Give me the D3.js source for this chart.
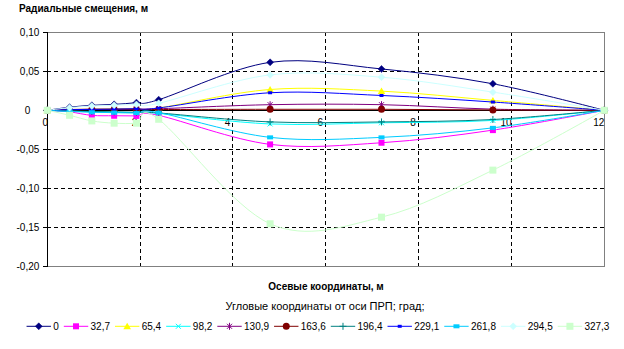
<!DOCTYPE html>
<html><head><meta charset="utf-8">
<script src="https://cdn.jsdelivr.net/npm/d3@7/dist/d3.min.js"></script>
<style>
body{margin:0;background:#fff}
svg{display:block}
text{font-family:"Liberation Sans",Arial,sans-serif;fill:#000}
</style>
</head><body>
<svg id="c" width="624" height="349"></svg>
<script>
// ---- data ----
const xValues = [0, 0.48, 0.96, 1.44, 1.92, 2.4, 4.8, 7.2, 9.6, 12];
const seriesNames = ["0","32,7","65,4","98,2","130,9","163,6","196,4","229,1","261,8","294,5","327,3"];
const s0  = [0, 0.004, 0.0064, 0.0076, 0.0098, 0.0136, 0.0615, 0.053, 0.034, 0];
const s1  = [0, -0.002, -0.0065, -0.007, -0.0072, -0.0065, -0.0437, -0.0416, -0.0254, 0];
const s2  = [0, 0.001, 0.0015, 0.002, 0.0025, 0.003, 0.0267, 0.0246, 0.0127, 0];
const s3  = [0, -0.001, -0.002, -0.0025, -0.003, -0.004, -0.0175, -0.016, -0.013, 0];
const s4  = [0, 0.001, 0.0015, 0.0015, 0.0018, 0.002, 0.0072, 0.0072, 0.0015, 0];
const s5  = [0, 0.0005, 0.001, 0.001, 0.001, 0.001, 0.0013, 0.0013, 0.0005, 0];
const s6  = [0, -0.001, -0.0015, -0.002, -0.0025, -0.0034, -0.0149, -0.0149, -0.0118, 0];
const s7  = [0, 0.0008, 0.0012, 0.0015, 0.002, 0.003, 0.0225, 0.019, 0.0106, 0];
const s8  = [0, -0.0015, -0.0025, -0.003, -0.0035, -0.003, -0.0347, -0.0347, -0.0225, 0];
const s9  = [0, 0.0034, 0.0055, 0.0065, 0.0075, 0.009, 0.0454, 0.0424, 0.0233, 0];
const s10 = [0, -0.0064, -0.0136, -0.0165, -0.0165, -0.0115, -0.1455, -0.137, -0.0767, 0];
const seriesValues = [s0,s1,s2,s3,s4,s5,s6,s7,s8,s9,s10];
const xTicks = [0, 2, 4, 6, 8, 10, 12];
const yTicks = [0.10, 0.05, 0, -0.05, -0.10, -0.15, -0.20];
const chartTitle = "Радиальные смещения, м";
const xTitle = "Осевые координаты, м";
const legendTitle = "Угловые координаты от оси ПРП; град;";

// ---- styles ----
const colors = ["#000080","#FF00FF","#FFFF00","#00FFFF","#800080","#800000","#008080","#0000FF","#00CCFF","#CCFFFF","#CCFFCC"];
const markers = ["diamond","square","triangle","x","star","circle","plus","dash","wdash","diamond","bsquare"];

const svg = d3.select("#c");
const L = 47.3, R = 604.3, T = 32.3, B = 266.3;
const x = d3.scaleLinear().domain([0, 12]).range([L, R]);
const y = d3.scaleLinear().domain([-0.2, 0.1]).range([B, T]);

const loc = d3.formatLocale({decimal: ",", thousands: " ", grouping: [3], currency: ["", ""], minus: "-"});
const f2 = loc.format(".2f");

// gridlines
const g = svg.append("g");
g.selectAll("line.hg").data(yTicks.filter(d => d !== 0 && d !== 0.10 && d !== -0.20))
  .enter().append("line")
  .attr("x1", L).attr("x2", R).attr("y1", d => y(d)).attr("y2", d => y(d))
  .attr("stroke", "#000").attr("stroke-width", 1).attr("stroke-dasharray", "4,3")
  .attr("shape-rendering", "crispEdges");
g.selectAll("line.vg").data(xTicks.filter(d => d !== 0 && d !== 12))
  .enter().append("line")
  .attr("x1", d => x(d)).attr("x2", d => x(d)).attr("y1", T).attr("y2", B)
  .attr("stroke", "#000").attr("stroke-width", 1).attr("stroke-dasharray", "4,3")
  .attr("shape-rendering", "crispEdges");

// plot border (top, right, bottom)
svg.append("path")
  .attr("d", `M${L},${T}H${R}V${B}H${L}`)
  .attr("fill", "none").attr("stroke", "#808080").attr("stroke-width", 1)
  .attr("shape-rendering", "crispEdges");

// y axis
const yAxis = d3.axisLeft(y).tickValues(yTicks).tickSize(4).tickPadding(4)
  .tickFormat(d => d === 0 ? "0" : f2(d));
const ya = svg.append("g").attr("transform", `translate(${L},0)`).call(yAxis);
ya.select(".domain").attr("stroke", "#000").attr("shape-rendering", "crispEdges");
ya.selectAll(".tick line").attr("stroke", "#000").attr("shape-rendering", "crispEdges");
ya.selectAll(".tick text").attr("font-size", "10px").attr("font-family", "Liberation Sans, Arial, sans-serif")
  .attr("fill", "#000").attr("dx", d => d === 0 ? -9 : 0);

// x axis at y=0
const xAxis = d3.axisBottom(x).tickValues(xTicks).tickSize(0).tickPadding(9).tickFormat(d => String(d));
const xa = svg.append("g").attr("transform", `translate(0,${y(0)})`).call(xAxis);
xa.select(".domain").attr("stroke", "#000").attr("shape-rendering", "crispEdges");
xa.selectAll(".tick text").attr("font-size", "10px").attr("font-family", "Liberation Sans, Arial, sans-serif")
  .attr("fill", "#000").attr("dx", d => d === 0 ? -2.6 : -6);

// bottom ticks
svg.append("g").selectAll("line").data(xTicks.filter(d => d !== 0 && d !== 12)).enter().append("line")
  .attr("x1", d => x(d)).attr("x2", d => x(d)).attr("y1", B).attr("y2", B - 3)
  .attr("stroke", "#000").attr("shape-rendering", "crispEdges");

// marker drawing
function drawMarker(sel, type, color) {
  switch (type) {
    case "diamond":
      sel.append("path").attr("d", "M0,-3.5L3.5,0L0,3.5L-3.5,0Z").attr("fill", color).attr("stroke", color).attr("stroke-width", 0.5); break;
    case "square":
      sel.append("rect").attr("x", -3).attr("y", -3).attr("width", 6).attr("height", 6).attr("fill", color); break;
    case "bsquare":
      sel.append("rect").attr("x", -3.5).attr("y", -3.5).attr("width", 7).attr("height", 7).attr("fill", color); break;
    case "triangle":
      sel.append("path").attr("d", "M0,-3.5L3.8,3L-3.8,3Z").attr("fill", color); break;
    case "x":
      sel.append("path").attr("d", "M-2.5,-2.5L2.5,2.5M-2.5,2.5L2.5,-2.5").attr("stroke", color).attr("stroke-width", 1).attr("fill", "none"); break;
    case "star":
      sel.append("path").attr("d", "M-2.5,-2.5L2.5,2.5M-2.5,2.5L2.5,-2.5M0,-3.5L0,3.5").attr("stroke", color).attr("stroke-width", 1).attr("fill", "none"); break;
    case "circle":
      sel.append("circle").attr("r", 3.5).attr("fill", color); break;
    case "plus":
      sel.append("path").attr("d", "M-3.5,0L3.5,0M0,-3.5L0,3.5").attr("stroke", color).attr("stroke-width", 1).attr("fill", "none"); break;
    case "dash":
      sel.append("rect").attr("x", -2).attr("y", -1.5).attr("width", 4).attr("height", 3).attr("fill", color); break;
    case "wdash":
      sel.append("rect").attr("x", -3).attr("y", -2).attr("width", 6).attr("height", 4).attr("fill", color); break;
  }
}

// series
const line = d3.line().x(d => x(d[0])).y(d => y(d[1])).curve(d3.curveCardinal.tension(0));
seriesValues.forEach((vals, i) => {
  const pts = xValues.map((xv, j) => [xv, vals[j]]);
  const sg = svg.append("g");
  sg.append("path").datum(pts).attr("d", line).attr("fill", "none")
    .attr("stroke", colors[i]).attr("stroke-width", 1);
  sg.selectAll("g.m").data(pts).enter().append("g")
    .attr("transform", d => `translate(${x(d[0])},${y(d[1])})`)
    .each(function() { drawMarker(d3.select(this), markers[i], colors[i]); });
});

// titles
svg.append("text").attr("x", 19).attr("y", 11.5).attr("font-size", "10px").attr("font-weight", "bold").text(chartTitle);
svg.append("text").attr("x", 326).attr("y", 289.5).attr("text-anchor", "middle").attr("font-size", "10px").attr("font-weight", "bold").text(xTitle);
svg.append("text").attr("x", 325).attr("y", 310).attr("text-anchor", "middle").attr("font-size", "11px").text(legendTitle);

// legend
const lg = svg.append("g");
const legY = 326.3;
const lineLen = 24.4, textGap = 2.3, itemGap = 5;
const items = lg.selectAll("g").data(seriesNames).enter().append("g");
items.append("text").attr("font-size", "10px").attr("y", legY + 3.6).text(d => d);
let widths = [];
items.each(function() { widths.push(d3.select(this).select("text").node().getComputedTextLength()); });
const total = d3.sum(widths) + seriesNames.length * (lineLen + textGap + itemGap) - itemGap;
let cx = 318 - total / 2;
items.each(function(d, i) {
  const it = d3.select(this);
  it.append("line").attr("x1", cx).attr("x2", cx + lineLen).attr("y1", legY).attr("y2", legY)
    .attr("stroke", colors[i]).attr("stroke-width", 1);
  const m = it.append("g").attr("transform", `translate(${cx + lineLen / 2},${legY})`);
  drawMarker(m, markers[i], colors[i]);
  it.select("text").attr("x", cx + lineLen + textGap);
  cx += lineLen + textGap + widths[i] + itemGap;
});
</script>
</body></html>
